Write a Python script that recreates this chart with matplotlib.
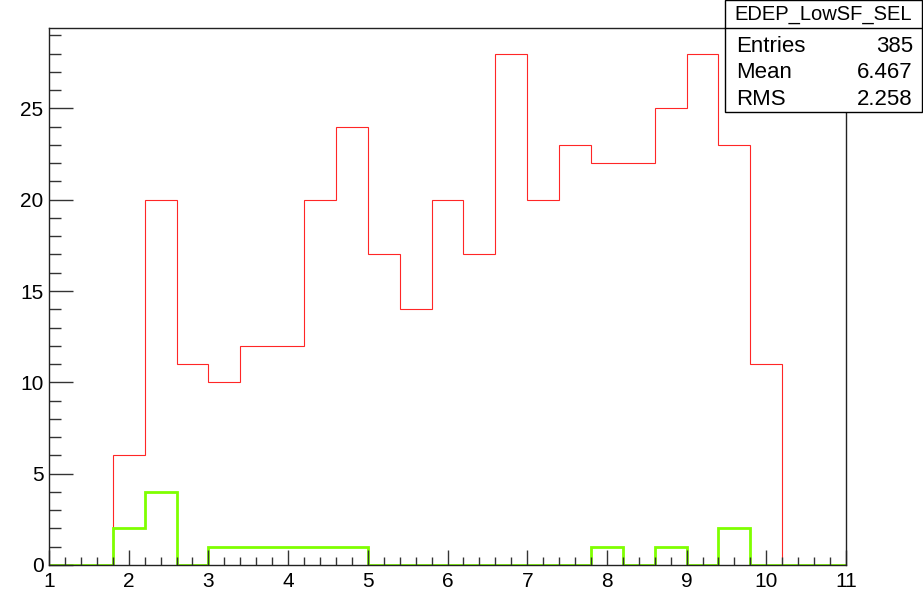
import matplotlib
matplotlib.use("Agg")
import matplotlib.pyplot as plt
from matplotlib.patches import Rectangle
from matplotlib.lines import Line2D
from matplotlib.ticker import MultipleLocator
import numpy as np

plt.rcParams['font.family'] = ['Liberation Sans', 'DejaVu Sans']

bin_edges = [1.0 + 0.4 * i for i in range(26)]
red_counts = [0, 0, 6, 20, 11, 10, 12, 12, 20, 24, 17, 14, 20, 17, 28,
              20, 23, 22, 22, 25, 28, 23, 11, 0, 0]
green_counts = [0, 0, 2, 4, 0, 1, 1, 1, 1, 1, 0, 0, 0, 0, 0,
                0, 0, 1, 0, 1, 0, 2, 0, 0, 0]
stats_title = "EDEP_LowSF_SEL"
stats_labels = ["Entries", "Mean", "RMS"]
stats_values = ["385", "6.467", "2.258"]

W, H = 923, 596
fig = plt.figure(figsize=(W / 100, H / 100), dpi=100)
ax = fig.add_axes([49 / W, (H - 565) / H, (846 - 49) / W, (565 - 28) / H])

ax.stairs(red_counts, bin_edges, color='#ff0000', linewidth=0.8, alpha=0.85)
ax.stairs(green_counts, bin_edges, color='#7fff00', linewidth=2.0)

ax.set_xlim(1, 11)
ax.set_ylim(0, 29.4)
ax.xaxis.set_major_locator(MultipleLocator(1))
ax.xaxis.set_minor_locator(MultipleLocator(0.2))
ax.yaxis.set_major_locator(MultipleLocator(5))
ax.yaxis.set_minor_locator(MultipleLocator(1))
ax.tick_params(axis='both', which='both', direction='in', top=False, right=False,
               color='#333333', labelsize=15)
ax.tick_params(axis='x', which='major', length=11, width=1, pad=5)
ax.tick_params(axis='x', which='minor', length=5.8, width=1)
ax.tick_params(axis='y', which='major', length=17, width=1, pad=4)
ax.tick_params(axis='y', which='minor', length=8.6, width=1)
for s in ax.spines.values():
    s.set_color('#222222')
    s.set_linewidth(1)

# stats box
bx0, by0, bx1, by1 = 725, 0, 922, 112
rect = Rectangle((bx0 / W, 1 - by1 / H), (bx1 - bx0) / W, (by1 - by0) / H,
                 transform=fig.transFigure, facecolor='white', edgecolor='black',
                 linewidth=1, zorder=5)
fig.add_artist(rect)
fig.add_artist(Line2D([bx0 / W, bx1 / W], [1 - 28 / H, 1 - 28 / H],
                      transform=fig.transFigure, color='black', linewidth=1, zorder=6))
fig.text((bx0 + bx1) / 2 / W, 1 - 14 / H, stats_title, ha='center', va='center',
         fontsize=14.5, zorder=7)
rows_y = [46, 73, 99]
for lab, val, yy in zip(stats_labels, stats_values, rows_y):
    fig.text(736 / W, 1 - yy / H, lab, ha='left', va='center', fontsize=16, zorder=7)
    fig.text(913 / W, 1 - yy / H, val, ha='right', va='center', fontsize=16, zorder=7)

fig.savefig("out.png", dpi=100)
